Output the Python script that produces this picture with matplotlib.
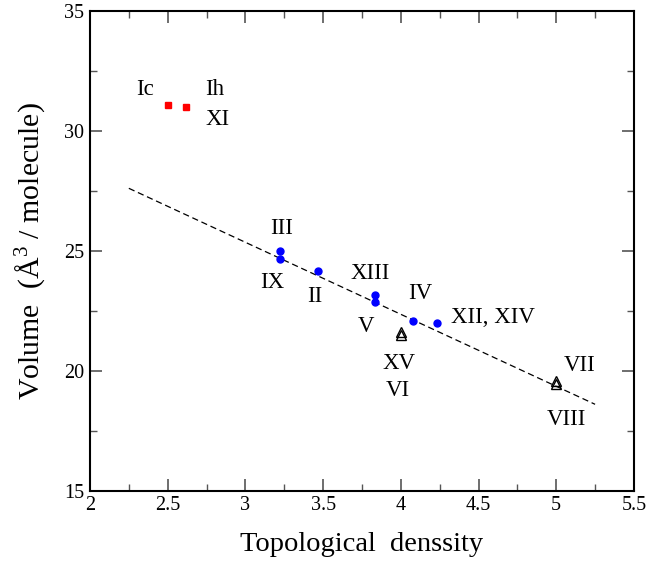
import matplotlib
matplotlib.use("Agg")
import matplotlib.pyplot as plt
from matplotlib.ticker import MultipleLocator

plt.rcParams['font.family'] = ['Liberation Serif', 'DejaVu Serif']
plt.rcParams['mathtext.fontset'] = 'custom'
plt.rcParams['mathtext.rm'] = 'Liberation Serif'

# ice phases: topological density vs volume per molecule
hex_x = [2.50, 2.62]
hex_y = [31.06, 31.00]

dense_x = [3.223, 3.223, 3.47, 3.836, 3.836, 4.078, 4.231]
dense_y = [25.00, 24.65, 24.15, 23.17, 22.85, 22.06, 21.97]

tri_x = [4.0, 4.0, 5.0, 5.0]
tri_y = [21.50, 21.60, 19.45, 19.58]

fit_x = [2.25, 5.25]
fit_y = [27.6, 18.6]

labels = ["Ic", "Ih", "XI", "III", "IX", "II", "XIII", "IV", "V",
          "XV", "VI", "XII, XIV", "VII", "VIII"]
label_x = [2.355, 2.80, 2.82, 3.23, 3.175, 3.444, 3.805, 4.128, 3.777,
           3.99, 3.98, 4.59, 5.153, 5.067]
label_y = [31.70, 31.70, 30.45, 25.93, 23.67, 23.11, 24.03, 23.20, 21.86,
           20.31, 19.17, 22.23, 20.20, 17.97]

fig = plt.figure(figsize=(6.65, 5.63), dpi=100)
ax = fig.add_axes([0.1353, 0.1284, 0.818, 0.8526])

ax.plot(fit_x, fit_y, color='black', linestyle=(0, (5, 3)), linewidth=0.9)
ax.plot(hex_x, hex_y, 's', color='red', markersize=4.5)
ax.plot(dense_x, dense_y, 'o', color='blue', markersize=5)
ax.plot(tri_x, tri_y, '^', markerfacecolor='none', markeredgecolor='black',
        markersize=7, markeredgewidth=1.0)

for t, x, y in zip(labels, label_x, label_y):
    ax.text(x, y, t, ha='center', va='center', fontsize=16.5)

ax.set_xlim(2, 5.5)
ax.set_ylim(15, 35)
ax.xaxis.set_major_locator(MultipleLocator(0.5))
ax.xaxis.set_minor_locator(MultipleLocator(0.25))
ax.yaxis.set_major_locator(MultipleLocator(5))
ax.yaxis.set_minor_locator(MultipleLocator(2.5))
ax.set_xticks([2, 2.5, 3, 3.5, 4, 4.5, 5, 5.5])
ax.set_xticklabels(['2', '2.5', '3', '3.5', '4', '4.5', '5', '5.5'])
ax.tick_params(which='both', direction='in', top=True, right=True,
               labelsize=14.5)
ax.tick_params(which='major', length=8.5, width=1.2, color='#555555', pad=4)
ax.tick_params(which='minor', length=5, width=1.0, color='#555555')
for s in ax.spines.values():
    s.set_linewidth(1.5)

ax.set_xlabel('Topological  denssity', fontsize=20.5, labelpad=12)
ax.set_ylabel('Volume  (Å$^3$ / molecule)', fontsize=21.5, labelpad=11)

fig.savefig('out.png', dpi=100)
